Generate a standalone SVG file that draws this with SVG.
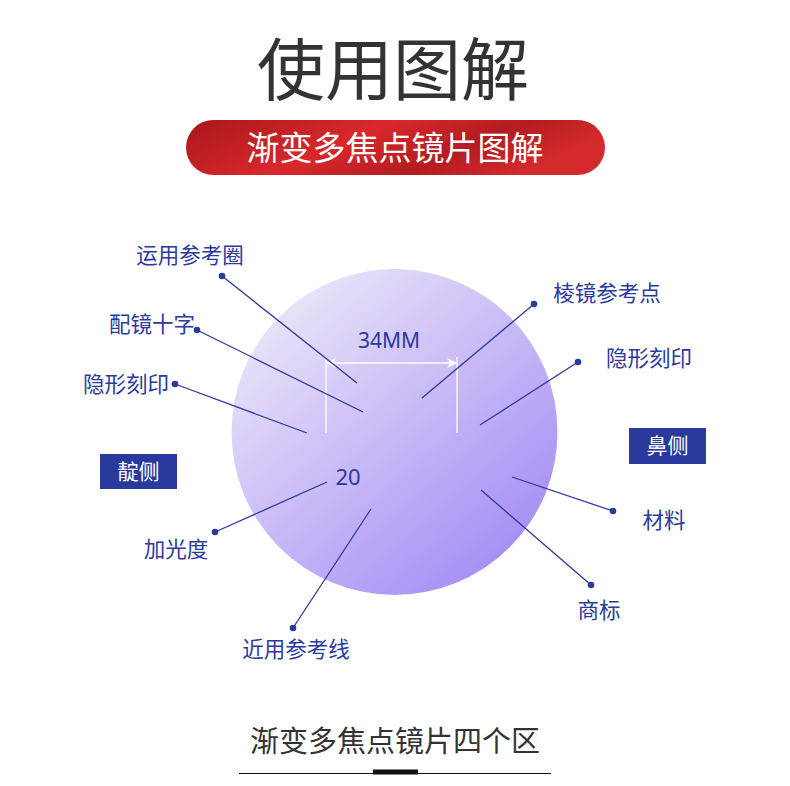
<svg xmlns="http://www.w3.org/2000/svg" width="790" height="786" viewBox="0 0 790 786">
<defs>
<linearGradient id="lens" x1="0.15" y1="0.1" x2="0.85" y2="0.9">
<stop offset="0" stop-color="#e9e4f8"/>
<stop offset="0.5" stop-color="#c8b9f6"/>
<stop offset="1" stop-color="#a58ef4"/>
</linearGradient>
<linearGradient id="pill" x1="0" y1="0" x2="1" y2="0.3">
<stop offset="0" stop-color="#a8171b"/>
<stop offset="0.45" stop-color="#d9282c"/>
<stop offset="0.75" stop-color="#b31c20"/>
<stop offset="1" stop-color="#d42a2c"/>
</linearGradient>
<marker id="arr" markerWidth="10" markerHeight="10" refX="9" refY="5" orient="auto-start-reverse" markerUnits="userSpaceOnUse">
<path d="M0,0 L10,5 L0,10 L3,5 Z" fill="#fff"/>
</marker>
</defs>
<style>
.cjk{font-family:"Noto Sans CJK SC","Noto Sans",sans-serif}
.lbl{font-size:21.5px;fill:#2b3a9c}
.ld{stroke:#2b3a9c;stroke-width:1.3;fill:none}
.dot{fill:#2b3a9c}
.tag{fill:#2a3a9c}
.tagt{font-size:21px;fill:#fff}
.dim{stroke:#fff;stroke-width:1.3;fill:none}
</style>
<rect width="790" height="786" fill="#fff"/>
<g id="title"><text class="cjk" x="393" y="95" font-size="68" fill="#333" text-anchor="middle">使用图解</text></g>
<g id="banner">
<rect x="186" y="120" width="419" height="55" rx="27.5" fill="url(#pill)"/>
<text class="cjk" x="395" y="160" font-size="33" fill="#fff" text-anchor="middle">渐变多焦点镜片图解</text>
</g>
<g id="lens">
<circle cx="394.5" cy="432" r="163" fill="url(#lens)"/>
<line class="dim" x1="326" y1="357" x2="326" y2="433"/>
<line class="dim" x1="457" y1="357" x2="457" y2="433"/>
<line class="dim" x1="327" y1="363" x2="456" y2="363" marker-start="url(#arr)" marker-end="url(#arr)"/>
<text x="389" y="348" font-family="'Noto Sans','Liberation Sans',sans-serif" font-size="21" fill="#2b3a9c" text-anchor="middle">34MM</text>
<text x="348" y="485" font-family="'Noto Sans','Liberation Sans',sans-serif" font-size="22" fill="#2b3a9c" text-anchor="middle">20</text>
</g>
<g id="connectors">
<line class="ld" x1="222" y1="276" x2="357" y2="383"/>
<line class="ld" x1="197" y1="330" x2="363" y2="412"/>
<line class="ld" x1="175" y1="384" x2="307" y2="433"/>
<line class="ld" x1="534" y1="304" x2="422" y2="398"/>
<line class="ld" x1="578" y1="362" x2="480" y2="425"/>
<line class="ld" x1="613" y1="511" x2="512" y2="477"/>
<line class="ld" x1="591" y1="585" x2="481" y2="490"/>
<line class="ld" x1="215" y1="532" x2="327" y2="482"/>
<line class="ld" x1="293" y1="628" x2="371" y2="509"/>
<circle class="dot" cx="222" cy="276" r="3.3"/>
<circle class="dot" cx="197" cy="330" r="3.3"/>
<circle class="dot" cx="175" cy="384" r="3.3"/>
<circle class="dot" cx="534" cy="304" r="3.3"/>
<circle class="dot" cx="578" cy="362" r="3.3"/>
<circle class="dot" cx="613" cy="511" r="3.3"/>
<circle class="dot" cx="591" cy="585" r="3.3"/>
<circle class="dot" cx="215" cy="532" r="3.3"/>
<circle class="dot" cx="293" cy="628" r="3.3"/>
</g>
<g id="n-ring"><text class="cjk lbl" x="190" y="263" text-anchor="middle">运用参考圈</text></g>
<g id="n-cross"><text class="cjk lbl" x="152" y="332" text-anchor="middle">配镜十字</text></g>
<g id="n-mark-l"><text class="cjk lbl" x="126" y="392" text-anchor="middle">隐形刻印</text></g>
<g id="n-prism"><text class="cjk lbl" x="607" y="301" text-anchor="middle">棱镜参考点</text></g>
<g id="n-mark-r"><text class="cjk lbl" x="649" y="366" text-anchor="middle">隐形刻印</text></g>
<g id="n-material"><text class="cjk lbl" x="664" y="528" text-anchor="middle">材料</text></g>
<g id="n-brand"><text class="cjk lbl" x="599" y="618" text-anchor="middle">商标</text></g>
<g id="n-add"><text class="cjk lbl" x="176" y="557" text-anchor="middle">加光度</text></g>
<g id="n-near"><text class="cjk lbl" x="296" y="657" text-anchor="middle">近用参考线</text></g>
<g id="n-temporal">
<rect class="tag" x="100" y="454" width="77" height="35"/>
<text class="cjk tagt" x="138.5" y="479" text-anchor="middle">靛侧</text>
</g>
<g id="n-nasal">
<rect class="tag" x="629" y="428" width="77" height="36"/>
<text class="cjk tagt" x="667.5" y="453" text-anchor="middle">鼻侧</text>
</g>
<g id="footer">
<text class="cjk" x="395" y="752" font-size="29" fill="#333" text-anchor="middle">渐变多焦点镜片四个区</text>
<line x1="239" y1="773.5" x2="551" y2="773.5" stroke="#111" stroke-width="1.2"/>
<rect x="373" y="769.5" width="45" height="5" fill="#111"/>
</g>
</svg>
